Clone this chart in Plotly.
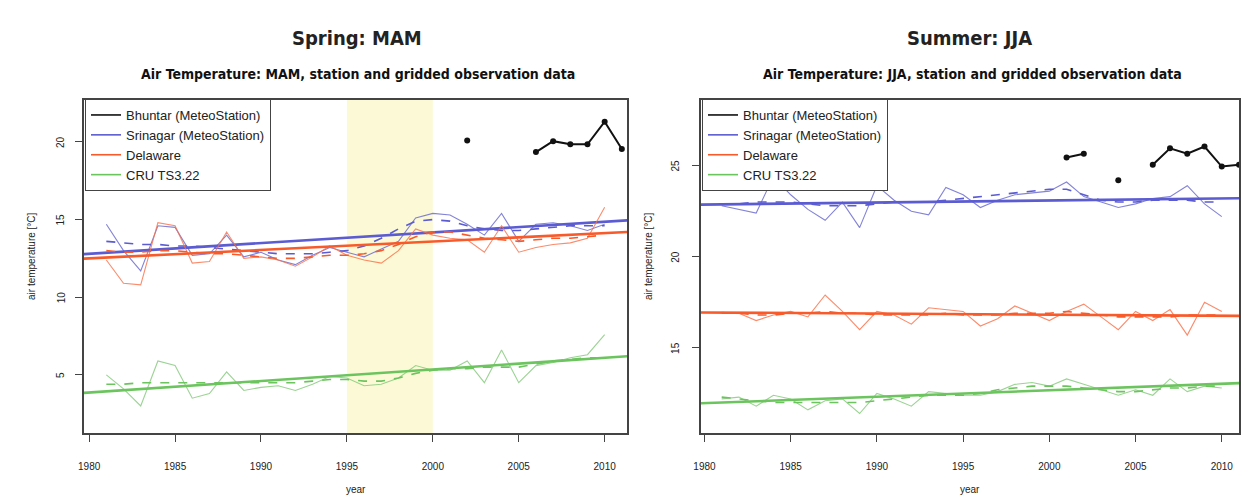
import plotly.graph_objects as go

# ---------------- data ----------------
years = list(range(1981, 2011))

# Spring (MAM)
mam_srinagar = [14.7, 13.0, 11.7, 14.6, 14.5, 12.7, 12.8, 14.0, 12.6, 12.9, 12.4, 12.1, 12.7, 13.2, 12.9,
                12.6, 13.1, 13.6, 15.1, 15.4, 15.3, 14.7, 14.0, 15.4, 13.6, 14.7, 14.8, 14.6, 14.3, 14.7]
mam_srinagar_smooth = [13.6, 13.5, 13.4, 13.4, 13.3, 13.3, 13.2, 13.1, 13.0, 12.9, 12.8, 12.8, 12.8, 12.9, 13.0,
                       13.3, 13.8, 14.4, 14.9, 15.0, 14.9, 14.6, 14.4, 14.3, 14.3, 14.4, 14.5, 14.6, 14.6, 14.6]
mam_delaware = [12.4, 10.9, 10.8, 14.8, 14.6, 12.2, 12.3, 14.2, 12.5, 12.6, 12.4, 12.0, 12.6, 13.3, 12.7,
                12.4, 12.2, 13.0, 14.4, 14.0, 13.8, 13.7, 12.9, 14.6, 12.9, 13.2, 13.4, 13.5, 13.8, 15.8]
mam_delaware_smooth = [13.0, 12.9, 12.9, 13.0, 13.0, 12.9, 12.8, 12.8, 12.7, 12.6, 12.5, 12.5, 12.6, 12.7, 12.7,
                       12.8, 13.0, 13.4, 13.9, 14.2, 14.2, 14.0, 13.8, 13.7, 13.6, 13.7, 13.8, 13.8, 13.9, 14.0]
mam_cru = [5.0, 4.1, 3.0, 5.9, 5.6, 3.5, 3.8, 5.2, 4.0, 4.2, 4.3, 4.0, 4.4, 4.9, 4.8,
           4.3, 4.4, 4.8, 5.6, 5.3, 5.3, 5.9, 4.5, 6.6, 4.5, 5.6, 5.8, 6.1, 6.3, 7.6]
mam_cru_smooth = [4.4, 4.4, 4.5, 4.5, 4.5, 4.5, 4.5, 4.5, 4.5, 4.5, 4.5, 4.5, 4.6, 4.7, 4.7,
                  4.6, 4.6, 4.8, 5.1, 5.3, 5.4, 5.4, 5.5, 5.5, 5.5, 5.7, 5.9, 6.0, 6.1, 6.1]
bhuntar_mam_years = [2002, 2003, 2004, 2005, 2006, 2007, 2008, 2009, 2010, 2011]
bhuntar_mam = [20.1, None, None, None, 19.35, 20.05, 19.85, 19.85, 21.3, 19.55]

# Summer (JJA)
jja_srinagar = [22.8, 22.6, 22.4, 24.4, 23.4, 22.6, 22.0, 23.0, 21.6, 23.9, 23.1, 22.5, 22.3, 23.8, 23.4,
                22.7, 23.1, 23.4, 23.5, 23.6, 24.1, 23.3, 23.0, 22.7, 22.9, 23.2, 23.3, 23.9, 22.9, 22.2]
jja_srinagar_smooth = [22.9, 22.9, 23.0, 23.0, 23.0, 22.9, 22.8, 22.8, 22.8, 22.9, 23.0, 23.0, 23.0, 23.1, 23.2,
                       23.3, 23.4, 23.5, 23.6, 23.7, 23.7, 23.4, 23.1, 23.0, 23.0, 23.1, 23.1, 23.1, 23.0, 23.0]
jja_delaware = [16.95, 16.9, 16.5, 16.8, 17.0, 16.7, 17.9, 17.0, 16.0, 17.0, 16.8, 16.3, 17.2, 17.1, 17.0,
                16.2, 16.6, 17.3, 16.9, 16.5, 17.0, 17.4, 16.7, 16.0, 17.0, 16.5, 17.1, 15.7, 17.5, 17.0]
jja_delaware_smooth = [16.9, 16.9, 16.8, 16.8, 16.9, 16.9, 17.0, 16.9, 16.9, 16.8, 16.8, 16.8, 16.8, 16.9, 16.8,
                       16.8, 16.8, 16.9, 16.9, 16.9, 17.0, 16.9, 16.8, 16.7, 16.7, 16.7, 16.7, 16.8, 16.8, 16.8]
jja_cru = [12.2, 12.3, 11.8, 12.4, 12.2, 11.6, 12.1, 12.2, 11.4, 12.5, 12.2, 11.8, 12.6, 12.5, 12.4,
           12.4, 12.6, 13.0, 13.1, 12.9, 13.3, 13.0, 12.7, 12.4, 12.7, 12.4, 13.3, 12.6, 12.9, 12.8]
jja_cru_smooth = [12.3, 12.2, 12.1, 12.0, 12.0, 12.0, 12.0, 12.0, 12.0, 12.1, 12.2, 12.3, 12.4, 12.4, 12.4,
                  12.5, 12.7, 12.8, 12.9, 12.9, 12.9, 12.8, 12.7, 12.6, 12.6, 12.7, 12.8, 12.8, 12.9, 12.9]
bhuntar_jja_years = [2001, 2002, 2003, 2004, 2005, 2006, 2007, 2008, 2009, 2010, 2011]
bhuntar_jja = [25.45, 25.65, None, 24.2, None, 25.05, 25.95, 25.65, 26.05, 24.95, 25.05]

# linear trend lines (values read at the two ends)
trend_years = [1979, 2012]
mam_srinagar_trend = [12.73, 15.0]
mam_delaware_trend = [12.45, 14.24]
mam_cru_trend = [3.79, 6.25]
jja_srinagar_trend = [22.85, 23.22]
jja_delaware_trend = [16.95, 16.75]
jja_cru_trend = [11.93, 13.1]

highlight_period = [1995, 2000]
x_ticks = [1980, 1985, 1990, 1995, 2000, 2005, 2010]
mam_y_ticks = [5, 10, 15, 20]
jja_y_ticks = [15, 20, 25]
series_names = ["Bhuntar (MeteoStation)", "Srinagar (MeteoStation)", "Delaware", "CRU TS3.22"]

# ---------------- style ----------------
W, H = 1249, 497
BLACK = "#111111"
BLUE = "#5b5bd2"
ORANGE = "#f85a2a"
GREEN = "#6cc45e"
THIN = {BLUE: "rgba(100,100,205,0.8)", ORANGE: "rgba(250,110,70,0.8)", GREEN: "rgba(130,200,120,0.8)"}
FONT = "Liberation Sans, Arial, sans-serif"

def px_x(p):
    return p / W

def px_y(p):
    return 1 - p / H

fig = go.Figure()

def add_panel(xa, ya, legend, sets, bh_years, bh_vals):
    for vals, smooth, trend, col in sets:
        fig.add_trace(go.Scatter(x=years, y=vals, mode="lines", line=dict(color=THIN[col], width=1.1),
                                 xaxis=xa, yaxis=ya, showlegend=False, hoverinfo="skip"))
        fig.add_trace(go.Scatter(x=years, y=smooth, mode="lines", line=dict(color=col, width=1.6, dash="dash"),
                                 xaxis=xa, yaxis=ya, showlegend=False, hoverinfo="skip"))
        fig.add_trace(go.Scatter(x=trend_years, y=trend, mode="lines", line=dict(color=col, width=2.6),
                                 xaxis=xa, yaxis=ya, showlegend=False, hoverinfo="skip"))
    fig.add_trace(go.Scatter(x=bh_years, y=bh_vals, mode="lines+markers", connectgaps=False,
                             line=dict(color=BLACK, width=2), marker=dict(color=BLACK, size=6),
                             xaxis=xa, yaxis=ya, showlegend=False, hoverinfo="skip"))
    for name, col in zip(series_names, [BLACK, BLUE, ORANGE, GREEN]):
        fig.add_trace(go.Scatter(x=[None], y=[None], mode="lines", line=dict(color=col, width=1.6),
                                 name=name, xaxis=xa, yaxis=ya, legend=legend))

add_panel("x", "y", "legend",
          [(mam_srinagar, mam_srinagar_smooth, mam_srinagar_trend, BLUE),
           (mam_delaware, mam_delaware_smooth, mam_delaware_trend, ORANGE),
           (mam_cru, mam_cru_smooth, mam_cru_trend, GREEN)],
          bhuntar_mam_years, bhuntar_mam)
add_panel("x2", "y2", "legend2",
          [(jja_srinagar, jja_srinagar_smooth, jja_srinagar_trend, BLUE),
           (jja_delaware, jja_delaware_smooth, jja_delaware_trend, ORANGE),
           (jja_cru, jja_cru_smooth, jja_cru_trend, GREEN)],
          bhuntar_jja_years, bhuntar_jja)

axis_common = dict(showgrid=False, zeroline=False, showline=True, linecolor="#444", linewidth=1.5,
                   mirror=True, ticks="outside", ticklen=7, tickcolor="#444", tickwidth=1,
                   tickfont=dict(family=FONT, size=10, color="#222"), automargin=False)

legend_common = dict(xanchor="left", yanchor="top", bgcolor="white", bordercolor="#444", borderwidth=1,
                     font=dict(family=FONT, size=13, color="#222"), tracegroupgap=0, itemwidth=30)

fig.update_layout(
    width=W, height=H, paper_bgcolor="white", plot_bgcolor="white",
    margin=dict(l=0, r=0, t=0, b=0, autoexpand=False),
    xaxis=dict(domain=[px_x(84), px_x(627)], range=[1979.7, 2011.3], tickvals=x_ticks,
               ticklabelstandoff=16, anchor="y", **axis_common),
    yaxis=dict(domain=[px_y(433), px_y(100)], range=[1.26, 22.7], tickvals=mam_y_ticks,
               showticklabels=False, anchor="x", **axis_common),
    xaxis2=dict(domain=[px_x(701), px_x(1239)], range=[1979.8, 2011.0], tickvals=x_ticks,
                ticklabelstandoff=16, anchor="y2", **axis_common),
    yaxis2=dict(domain=[px_y(433), px_y(100)], range=[10.33, 28.6], tickvals=jja_y_ticks,
                showticklabels=False, anchor="x2", **axis_common),
    legend=dict(x=px_x(85), y=px_y(99), **legend_common),
    legend2=dict(x=px_x(702), y=px_y(99), **legend_common),
    showlegend=True,
)

fig.add_shape(type="rect", xref="x", yref="y domain", x0=highlight_period[0], x1=highlight_period[1],
              y0=0, y1=1, fillcolor="#fcfad6", line=dict(width=0), layer="below")

# rotated y tick labels (R style), placed on the data scale
for yref, ticks, xpix in [("y", mam_y_ticks, 61), ("y2", jja_y_ticks, 676)]:
    for t in ticks:
        fig.add_annotation(x=px_x(xpix), xref="paper", y=t, yref=yref, text=str(t), showarrow=False,
                           textangle=-90, font=dict(family=FONT, size=10, color="#222"),
                           xanchor="center", yanchor="middle")

TITLE_FONT = "Liberation Sans Narrow, DejaVu Sans Condensed, Arial Narrow, sans-serif"
ann = [
    (357, 38, "<b>Spring: MAM</b>", dict(family=TITLE_FONT, size=20, color="#222"), 0),
    (970, 38, "<b>Summer: JJA</b>", dict(family=TITLE_FONT, size=20, color="#222"), 0),
    (358, 74, "<b>Air Temperature: MAM, station and gridded observation data</b>", dict(family=TITLE_FONT, size=14, color="#111"), 0),
    (972, 74, "<b>Air Temperature: JJA, station and gridded observation data</b>", dict(family=TITLE_FONT, size=14, color="#111"), 0),
    (356, 489, "year", dict(family=FONT, size=10, color="#222"), 0),
    (970, 489, "year", dict(family=FONT, size=10, color="#222"), 0),
    (31, 256, "air temperature [°C]", dict(family=FONT, size=10, color="#222"), -90),
    (648, 256, "air temperature [°C]", dict(family=FONT, size=10, color="#222"), -90),
]
for x, y, text, font, ang in ann:
    fig.add_annotation(x=px_x(x), y=px_y(y), xref="paper", yref="paper", text=text, showarrow=False,
                       font=font, textangle=ang, xanchor="center", yanchor="middle")

fig.write_html("out.html", config={"displayModeBar": False},
               post_script="document.body.style.margin='0';document.body.style.overflow='hidden';")
